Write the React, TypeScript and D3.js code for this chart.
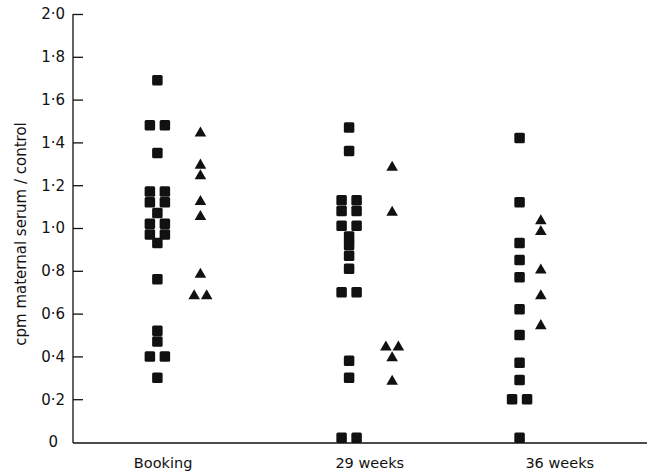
import React, { useEffect, useRef } from 'react';
import * as d3 from 'd3';

// groups along the x axis
const categories = ['Booking', '29 weeks', '36 weeks'];

// squares
const squaresBooking = [1.69, 1.48, 1.48, 1.35, 1.17, 1.17, 1.12, 1.12, 1.07, 1.02, 1.02, 0.97, 0.97, 0.93, 0.76, 0.52, 0.47, 0.40, 0.40, 0.30];
const squares29 = [1.47, 1.36, 1.13, 1.13, 1.08, 1.08, 1.01, 1.01, 0.96, 0.92, 0.87, 0.81, 0.70, 0.70, 0.38, 0.30, 0.02, 0.02];
const squares36 = [1.42, 1.12, 0.93, 0.85, 0.77, 0.62, 0.50, 0.37, 0.29, 0.20, 0.20, 0.02];

// triangles
const trianglesBooking = [1.45, 1.30, 1.25, 1.13, 1.06, 0.79, 0.69, 0.69];
const triangles29 = [1.29, 1.08, 0.45, 0.45, 0.40, 0.29];
const triangles36 = [1.04, 0.99, 0.81, 0.69, 0.55];

const yTicks = [0, 0.2, 0.4, 0.6, 0.8, 1.0, 1.2, 1.4, 1.6, 1.8, 2.0];

const W = 647;
const H = 474;
const FONT = 'DejaVu Sans, sans-serif';

// spread equal values side by side
const spread = (values: number[], gap: number) => {
  const counts = d3.rollup(values, v => v.length, d => d);
  const seen = new Map<number, number>();
  return values.map(v => {
    const n = counts.get(v) || 1;
    const k = seen.get(v) || 0;
    seen.set(v, k + 1);
    return { v, dx: (k - (n - 1) / 2) * gap };
  });
};

export default function App() {
  const ref = useRef<SVGSVGElement>(null);

  useEffect(() => {
    const svg = d3.select(ref.current);
    svg.selectAll('*').remove();

    const left = 73;
    const bottom = 443;

    const y = d3.scaleLinear().domain([0, 2]).range([442, 14]);
    const x = d3.scaleLinear().domain([0, 1]).range([left, W]);

    // column anchors within the plot, as fractions of its width
    const labelX = d3.scaleOrdinal<string, number>().domain(categories).range([0.157, 0.517, 0.848].map(x));
    const squareX = d3.scaleOrdinal<string, number>().domain(categories).range([0.147, 0.481, 0.778].map(x));
    const triangleX = d3.scaleOrdinal<string, number>().domain(categories).range([0.222, 0.556, 0.815].map(x));

    const squares = [squaresBooking, squares29, squares36];
    const triangles = [trianglesBooking, triangles29, triangles36];

    // y axis
    const yAxis = d3.axisLeft(y)
      .tickValues(yTicks)
      .tickSizeInner(-10)
      .tickSizeOuter(0)
      .tickPadding(8)
      .tickFormat(d => (+d === 0 ? '0' : d3.format('.1f')(+d).replace('.', '·')));

    const gy = svg.append('g').attr('transform', `translate(${left},0)`).call(yAxis);
    gy.select('.domain').remove();
    gy.selectAll('line').attr('stroke', '#111').attr('stroke-width', 1.3);
    gy.selectAll('text')
      .attr('fill', '#111')
      .style('font-family', FONT)
      .style('font-size', '15px');
    gy.selectAll<SVGTextElement, number>('text').filter(d => +d === 0).attr('x', -15);
    gy.selectAll<SVGGElement, number>('.tick').filter(d => +d === 0).select('line').remove();

    svg.append('line')
      .attr('x1', left).attr('x2', left)
      .attr('y1', y(2)).attr('y2', bottom)
      .attr('stroke', '#111').attr('stroke-width', 1.3);

    svg.append('line')
      .attr('x1', left).attr('x2', W)
      .attr('y1', bottom).attr('y2', bottom)
      .attr('stroke', '#111').attr('stroke-width', 1.3);

    // category labels
    svg.append('g')
      .selectAll('text')
      .data(categories)
      .enter()
      .append('text')
      .attr('x', d => labelX(d))
      .attr('y', 468)
      .attr('text-anchor', 'middle')
      .attr('fill', '#111')
      .style('font-family', FONT)
      .style('font-size', '14.5px')
      .text(d => d);

    // y title
    svg.append('text')
      .attr('transform', `translate(26,${(y(0) + y(2)) / 2 + 6}) rotate(-90)`)
      .attr('text-anchor', 'middle')
      .attr('fill', '#111')
      .style('font-family', FONT)
      .style('font-size', '15px')
      .text('cpm maternal serum / control');

    const size = 10.5;
    const tri = d3.symbol().type(d3.symbolTriangle).size(58)();

    categories.forEach((cat, i) => {
      svg.append('g')
        .selectAll('rect')
        .data(spread(squares[i], 15))
        .enter()
        .append('rect')
        .attr('x', d => squareX(cat) + d.dx - size / 2)
        .attr('y', d => y(d.v) - size / 2)
        .attr('width', size)
        .attr('height', size)
        .attr('rx', 1.5)
        .attr('fill', '#111');

      svg.append('g')
        .selectAll('path')
        .data(spread(triangles[i], 12.5))
        .enter()
        .append('path')
        .attr('d', tri)
        .attr('transform', d => `translate(${triangleX(cat) + d.dx},${y(d.v) + 1.5})`)
        .attr('fill', '#111');
    });
  }, []);

  return (
    <svg
      ref={ref}
      width={W}
      height={H}
      style={{ position: 'fixed', left: 0, top: 0, background: '#fff' }}
    />
  );
}
